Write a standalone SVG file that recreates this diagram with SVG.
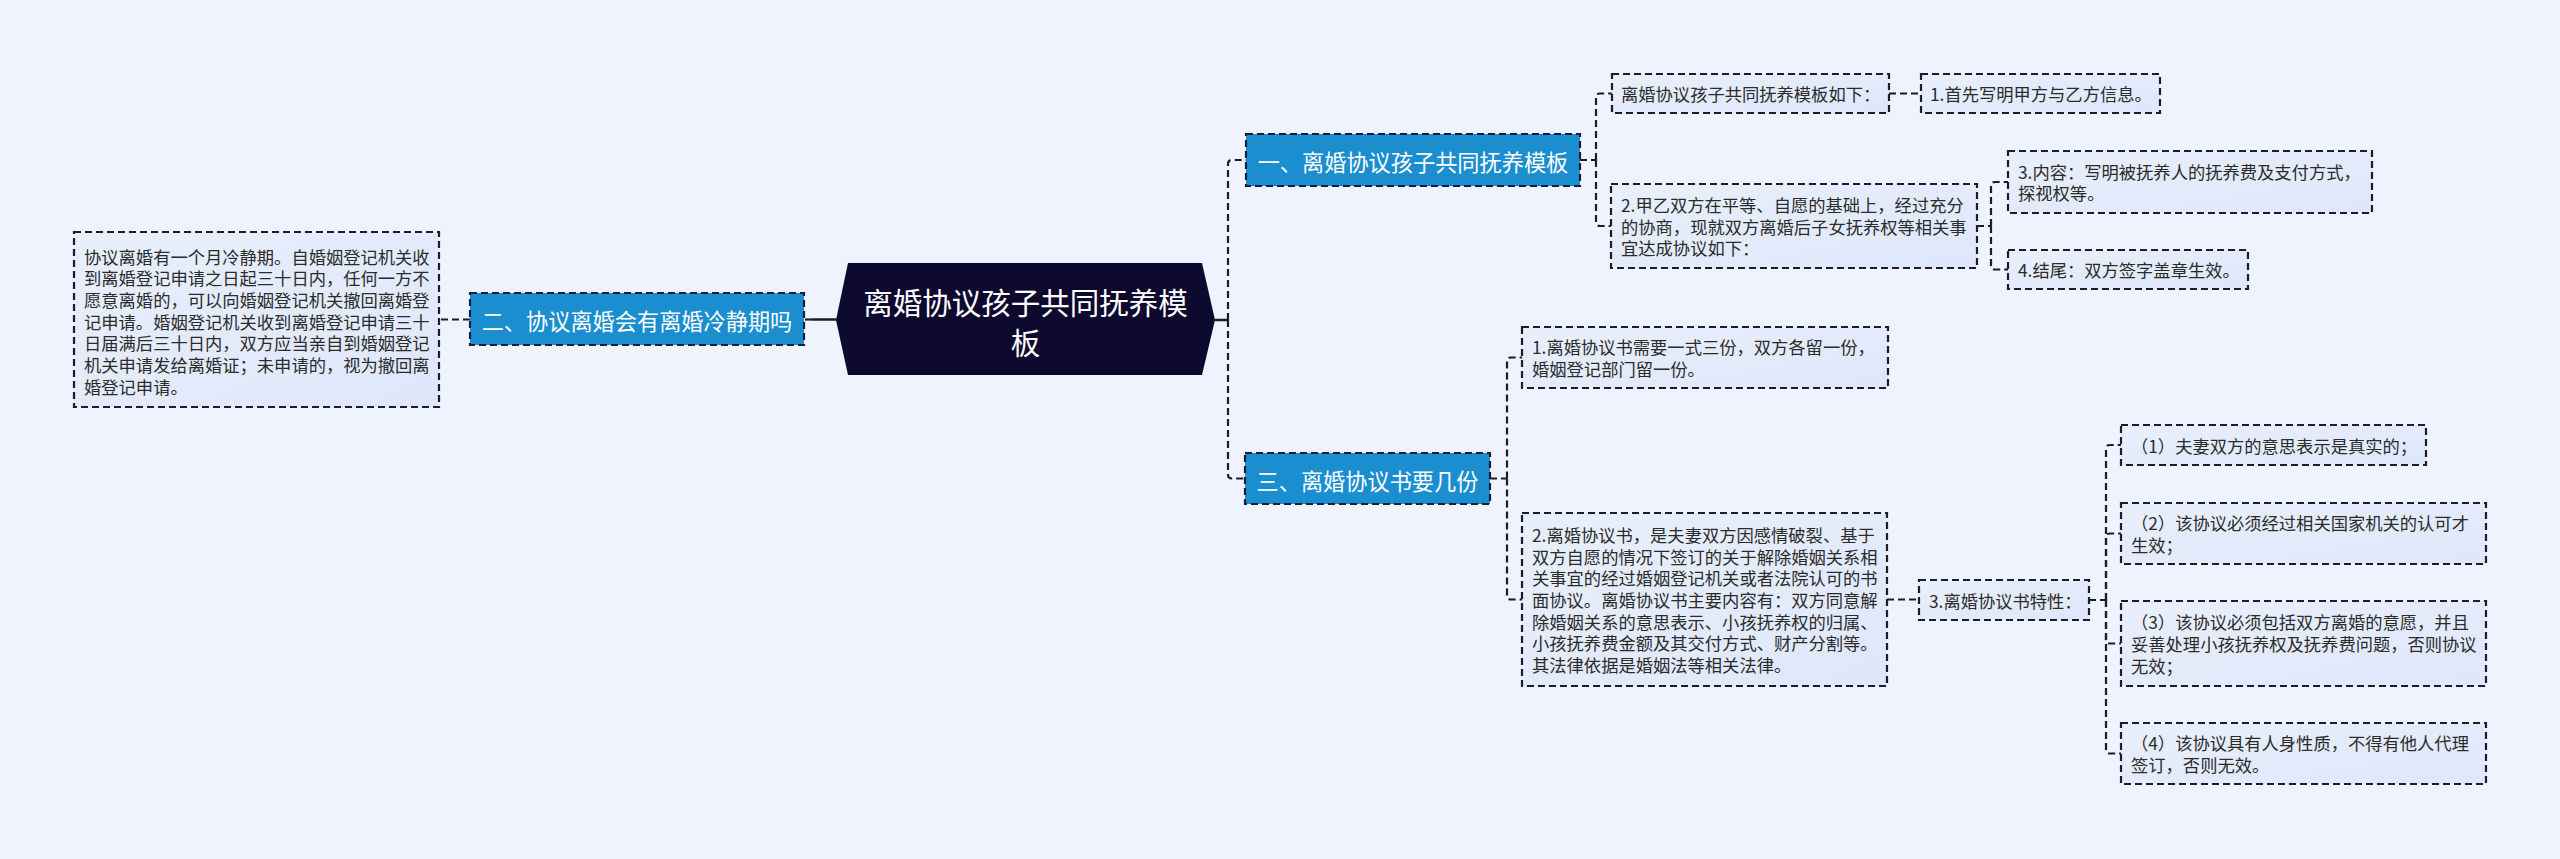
<svg xmlns="http://www.w3.org/2000/svg" width="2560" height="859" viewBox="0 0 2560 859">
<defs>
<linearGradient id="leafg" x1="0" y1="0" x2="1" y2="1">
<stop offset="0" stop-color="#E8EFFC"/>
<stop offset="1" stop-color="#DEE7FA"/>
</linearGradient>
<style>
.leaf{fill:url(#leafg);stroke:#1C1C2A;stroke-width:2.2;stroke-dasharray:7 4}
.branch{fill:#1B8ECF;stroke:#1A1E38;stroke-width:2.2;stroke-dasharray:7 4}
.root{fill:#0E0A2F}
.lt{font-family:"Noto Sans CJK SC","Noto Sans",sans-serif;font-size:17.3px;fill:#2B2B2B;dominant-baseline:central}
.bt{font-family:"Noto Sans CJK SC","Noto Sans",sans-serif;font-size:22.2px;fill:#fff;dominant-baseline:central;text-anchor:middle}
.rt{font-family:"Noto Sans CJK SC","Noto Sans",sans-serif;font-size:29.5px;fill:#fff;dominant-baseline:central;text-anchor:middle}
.c{fill:none;stroke:#1C1C2A;stroke-width:2.2;stroke-dasharray:7 4}
.cs{fill:none;stroke:#1A1A2E;stroke-width:2.5}
</style>
</defs>
<rect width="2560" height="859" fill="#EEF3FE"/>
<g id="connectors">
<path class="cs" d="M836 319.5 H812"/>
<path class="c" d="M812 319.5 H804"/>
<path class="c" d="M470 319.5 H439"/>
<path class="cs" d="M1215 320 H1228"/>
<path class="c" d="M1228 320 V164 Q1228 160 1232 160 H1246"/>
<path class="c" d="M1228 320 V474.5 Q1228 478.5 1232 478.5 H1245"/>
<path class="c" d="M1580 160 H1596"/>
<path class="c" d="M1596 160 V97.5 Q1596 93.5 1600 93.5 H1612"/>
<path class="c" d="M1596 160 V222 Q1596 226 1600 226 H1611"/>
<path class="c" d="M1889 93.5 H1921"/>
<path class="c" d="M1977 226 H1991"/>
<path class="c" d="M1991 226 V186 Q1991 182 1995 182 H2008"/>
<path class="c" d="M1991 226 V265.5 Q1991 269.5 1995 269.5 H2008"/>
<path class="c" d="M1490 478.5 H1507"/>
<path class="c" d="M1507 478.5 V361.5 Q1507 357.5 1511 357.5 H1522"/>
<path class="c" d="M1507 478.5 V595.5 Q1507 599.5 1511 599.5 H1522"/>
<path class="c" d="M1887 599.5 H1919"/>
<path class="c" d="M2089 600 H2106"/>
<path class="c" d="M2106 600 V449 Q2106 445 2110 445 H2121"/>
<path class="c" d="M2106 600 V537.5 Q2106 533.5 2110 533.5 H2121"/>
<path class="c" d="M2106 600 V639.5 Q2106 643.5 2110 643.5 H2121"/>
<path class="c" d="M2106 600 V749.5 Q2106 753.5 2110 753.5 H2121"/>
</g>
<g id="root">
<polygon class="root" points="836,320 848,263 1202,263 1215,320 1202,375 848,375"/>
<text class="rt" x="1025.5" y="300.5">离婚协议孩子共同抚养模</text>
<text class="rt" x="1025.5" y="340.5">板</text>
</g>
<g id="b1">
<rect class="branch" x="1246" y="134" width="334" height="52"/>
<text class="bt" x="1413" y="161">一、离婚协议孩子共同抚养模板</text>
</g>
<g id="b2">
<rect class="branch" x="470" y="293" width="334" height="52"/>
<text class="bt" x="637" y="320">二、协议离婚会有离婚冷静期吗</text>
</g>
<g id="b3">
<rect class="branch" x="1245" y="453" width="245" height="51"/>
<text class="bt" x="1367.5" y="479.5">三、离婚协议书要几份</text>
</g>
<g id="n-left">
<rect class="leaf" x="74" y="232" width="365" height="175"/>
<text class="lt" x="84" y="256">协议离婚有一个月冷静期。自婚姻登记机关收</text>
<text class="lt" x="84" y="277.7">到离婚登记申请之日起三十日内，任何一方不</text>
<text class="lt" x="84" y="299.4">愿意离婚的，可以向婚姻登记机关撤回离婚登</text>
<text class="lt" x="84" y="321.1">记申请。婚姻登记机关收到离婚登记申请三十</text>
<text class="lt" x="84" y="342.8">日届满后三十日内，双方应当亲自到婚姻登记</text>
<text class="lt" x="84" y="364.5">机关申请发给离婚证；未申请的，视为撤回离</text>
<text class="lt" x="84" y="386.2">婚登记申请。</text>
</g>
<g id="n-rux">
<rect class="leaf" x="1612" y="74" width="277" height="39"/>
<text class="lt" x="1621" y="93.5">离婚协议孩子共同抚养模板如下：</text>
</g>
<g id="n-1">
<rect class="leaf" x="1921" y="74" width="239" height="39"/>
<text class="lt" x="1930" y="93.5">1.首先写明甲方与乙方信息。</text>
</g>
<g id="n-2">
<rect class="leaf" x="1611" y="184" width="366" height="84"/>
<text class="lt" x="1621" y="204.3">2.甲乙双方在平等、自愿的基础上，经过充分</text>
<text class="lt" x="1621" y="226">的协商，现就双方离婚后子女抚养权等相关事</text>
<text class="lt" x="1621" y="247.7">宜达成协议如下：</text>
</g>
<g id="n-3">
<rect class="leaf" x="2008" y="151" width="364" height="62"/>
<text class="lt" x="2018" y="171.2">3.内容：写明被抚养人的抚养费及支付方式，</text>
<text class="lt" x="2018" y="192.9">探视权等。</text>
</g>
<g id="n-4">
<rect class="leaf" x="2008" y="250" width="240" height="39"/>
<text class="lt" x="2018" y="269.5">4.结尾：双方签字盖章生效。</text>
</g>
<g id="n-fen1">
<rect class="leaf" x="1522" y="327" width="366" height="61"/>
<text class="lt" x="1532" y="346.7">1.离婚协议书需要一式三份，双方各留一份，</text>
<text class="lt" x="1532" y="368.4">婚姻登记部门留一份。</text>
</g>
<g id="n-fen2">
<rect class="leaf" x="1522" y="513" width="365" height="173"/>
<text class="lt" x="1532" y="534.4">2.离婚协议书，是夫妻双方因感情破裂、基于</text>
<text class="lt" x="1532" y="556.1">双方自愿的情况下签订的关于解除婚姻关系相</text>
<text class="lt" x="1532" y="577.8">关事宜的经过婚姻登记机关或者法院认可的书</text>
<text class="lt" x="1532" y="599.5">面协议。离婚协议书主要内容有：双方同意解</text>
<text class="lt" x="1532" y="621.2">除婚姻关系的意思表示、小孩抚养权的归属、</text>
<text class="lt" x="1532" y="642.9">小孩抚养费金额及其交付方式、财产分割等。</text>
<text class="lt" x="1532" y="664.6">其法律依据是婚姻法等相关法律。</text>
</g>
<g id="n-tx">
<rect class="leaf" x="1919" y="580" width="170" height="40"/>
<text class="lt" x="1929" y="600">3.离婚协议书特性：</text>
</g>
<g id="n-t1">
<rect class="leaf" x="2121" y="425" width="305" height="40"/>
<text class="lt" x="2131" y="445">（1）夫妻双方的意思表示是真实的；</text>
</g>
<g id="n-t2">
<rect class="leaf" x="2121" y="503" width="365" height="61"/>
<text class="lt" x="2131" y="522.7">（2）该协议必须经过相关国家机关的认可才</text>
<text class="lt" x="2131" y="544.4">生效；</text>
</g>
<g id="n-t3">
<rect class="leaf" x="2121" y="601" width="365" height="85"/>
<text class="lt" x="2131" y="621.8">（3）该协议必须包括双方离婚的意愿，并且</text>
<text class="lt" x="2131" y="643.5">妥善处理小孩抚养权及抚养费问题，否则协议</text>
<text class="lt" x="2131" y="665.2">无效；</text>
</g>
<g id="n-t4">
<rect class="leaf" x="2121" y="723" width="365" height="61"/>
<text class="lt" x="2131" y="742.7">（4）该协议具有人身性质，不得有他人代理</text>
<text class="lt" x="2131" y="764.4">签订，否则无效。</text>
</g>
</svg>
